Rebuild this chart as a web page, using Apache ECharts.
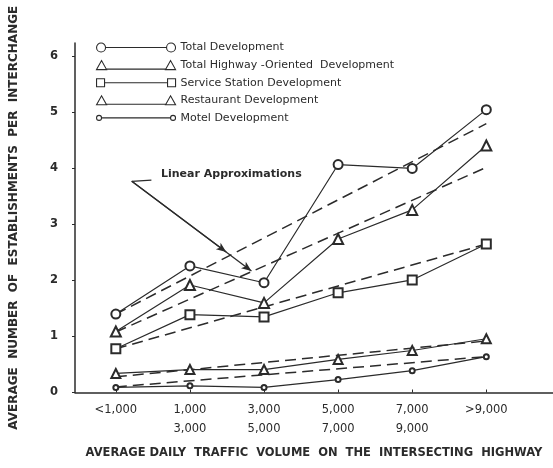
<!DOCTYPE html>
<html>
<head>
<meta charset="utf-8">
<script src="https://cdn.jsdelivr.net/npm/echarts@6/dist/echarts.min.js"></script>
<style>
  html, body { margin: 0; padding: 0; background: #fff; }
  #chart { width: 553px; height: 468px; }
</style>
</head>
<body>
<div id="chart"></div>
<script>
// Traffic volume classes (one per x position)
const categories = ['<1,000', '1,000\n3,000', '3,000\n5,000', '5,000\n7,000', '7,000\n9,000', '>9,000'];
const yTicks = [0, 1, 2, 3, 4, 5, 6];

// Average establishments per interchange, observed
const totalDev      = [1.40, 2.26, 1.96, 4.07, 4.00, 5.05];
const highwayDev    = [1.09, 1.92, 1.60, 2.74, 3.26, 4.41];
const serviceDev    = [0.78, 1.39, 1.35, 1.78, 2.01, 2.65];
const restaurantDev = [0.34, 0.41, 0.41, 0.59, 0.75, 0.96];
const motelDev      = [0.09, 0.12, 0.09, 0.23, 0.39, 0.64];

// Linear approximations: value at first and last class
const totalFit      = [1.40, 4.80];
const highwayFit    = [1.08, 4.02];
const serviceFit    = [0.78, 2.65];
const restaurantFit = [0.28, 0.92];
const motelFit      = [0.10, 0.64];

// Pointer from the "Linear Approximations" note, in axis units
const noteStart = [0.215, 3.77];
const noteTick  = [0.48, 3.79];
const noteTips  = [[1.49, 2.51], [1.83, 2.17]];

const ink = '#2b2b2b';
const font = 'DejaVu Sans';

function pairs(vals) { return vals.map((v, i) => [i, v]); }
function ends(fit) { return [[0, fit[0]], [categories.length - 1, fit[1]]]; }

// Legend keys: marker, rule, marker (all 79 px wide)
const circleKey = 'path://M0 4.5A4.5 4.5 0 1 0 9 4.5A4.5 4.5 0 1 0 0 4.5ZM9 4.5L70 4.5M70 4.5A4.5 4.5 0 1 0 79 4.5A4.5 4.5 0 1 0 70 4.5Z';
const triKey    = 'path://M0 9L5 0L10 9ZM10 8.5L69 8.5M69 9L74 0L79 9Z';
const squareKey = 'path://M0 0L8 0L8 8L0 8ZM8 4L71 4M71 0L79 0L79 8L71 8Z';
const smallKey  = 'path://M0 2.5A2.5 2.5 0 1 0 5 2.5A2.5 2.5 0 1 0 0 2.5ZM5 2.5L74 2.5M74 2.5A2.5 2.5 0 1 0 79 2.5A2.5 2.5 0 1 0 74 2.5Z';

function observed(name, data, symbol, size) {
  return {
    name: name, type: 'line', data: pairs(data),
    symbol: symbol, symbolSize: size,
    lineStyle: { color: ink, width: 1.2 },
    itemStyle: { color: ink, borderColor: ink, borderWidth: 1.1 },
    emphasis: { disabled: true }, z: 3
  };
}
function fitted(name, fit) {
  return {
    name: name, type: 'line', data: ends(fit), symbol: 'none',
    lineStyle: { color: ink, width: 1.5, type: [11, 6] },
    emphasis: { disabled: true }, z: 2
  };
}

const chart = echarts.init(document.getElementById('chart'), null, { renderer: 'canvas' });
chart.setOption({
  animation: false,
  backgroundColor: '#fff',
  grid: { left: 73, right: 0, top: 43, bottom: 75.5 },
  xAxis: {
    type: 'value', min: -0.551, max: 5.9,
    splitLine: { show: false },
    axisLine: { onZero: false, lineStyle: { color: ink, width: 1.5 } },
    axisTick: { inside: true, length: 3, customValues: [0, 1, 2, 3, 4, 5], lineStyle: { color: ink } },
    axisLabel: {
      customValues: [0, 1, 2, 3, 4, 5],
      formatter: v => categories[Math.round(v)],
      color: ink, fontFamily: font, fontSize: 11.5, lineHeight: 19, margin: 8
    },
    name: 'AVERAGE DAILY  TRAFFIC  VOLUME  ON  THE  INTERSECTING  HIGHWAY',
    nameLocation: 'middle', nameGap: 55,
    nameTextStyle: { color: ink, fontFamily: font, fontWeight: 'bold', fontSize: 11.5 }
  },
  yAxis: {
    type: 'value', min: 0, max: 6.24,
    splitLine: { show: false },
    axisLine: { show: true, onZero: false, lineStyle: { color: ink, width: 1.5 } },
    axisTick: { show: true, length: 3, customValues: yTicks, lineStyle: { color: ink } },
    axisLabel: {
      customValues: yTicks, color: ink, fontFamily: font, fontWeight: 'bold', fontSize: 11.5, margin: 17
    },
    name: 'AVERAGE  NUMBER  OF  ESTABLISHMENTS  PER  INTERCHANGE',
    nameLocation: 'middle', nameGap: 55, nameRotate: 90,
    nameTextStyle: { color: ink, fontFamily: font, fontWeight: 'bold', fontSize: 12 }
  },
  legend: {
    orient: 'vertical', left: 91, top: 37,
    itemWidth: 79, itemHeight: 9, itemGap: 6.6,
    selectedMode: false,
    itemStyle: { color: '#fff', borderColor: ink, borderWidth: 1.1 },
    textStyle: { color: ink, fontFamily: font, fontSize: 11, padding: [0, 0, 0, 0] },
    data: [
      { name: 'Total Development', icon: circleKey },
      { name: 'Total Highway -Oriented  Development', icon: triKey },
      { name: 'Service Station Development', icon: squareKey },
      { name: 'Restaurant Development', icon: triKey },
      { name: 'Motel Development', icon: smallKey }
    ]
  },
  graphic: [{
    type: 'text', left: 161, top: 169,
    style: { text: 'Linear Approximations', fill: ink, font: 'bold 11px "DejaVu Sans"' }
  }],
  series: [
    observed('Total Development', totalDev, 'emptyCircle', 9),
    observed('Total Highway -Oriented  Development', highwayDev, 'emptyTriangle', 10),
    observed('Service Station Development', serviceDev, 'emptyRect', 9),
    observed('Restaurant Development', restaurantDev, 'emptyTriangle', 9),
    observed('Motel Development', motelDev, 'emptyCircle', 5),
    fitted('Total fit', totalFit),
    fitted('Highway fit', highwayFit),
    fitted('Service fit', serviceFit),
    fitted('Restaurant fit', restaurantFit),
    fitted('Motel fit', motelFit),
    {
      name: 'note', type: 'line', data: [], symbol: 'none',
      markLine: {
        silent: true, animation: false,
        lineStyle: { color: ink, width: 1.3, type: 'solid' },
        label: { show: false },
        symbolSize: [6, 10],
        data: [
          [{ coord: noteStart, symbol: 'none' }, { coord: noteTick, symbol: 'none' }],
          [{ coord: noteStart, symbol: 'none' }, { coord: noteTips[0], symbol: 'arrow' }],
          [{ coord: noteStart, symbol: 'none' }, { coord: noteTips[1], symbol: 'arrow' }]
        ]
      }
    }
  ]
});
</script>
</body>
</html>
